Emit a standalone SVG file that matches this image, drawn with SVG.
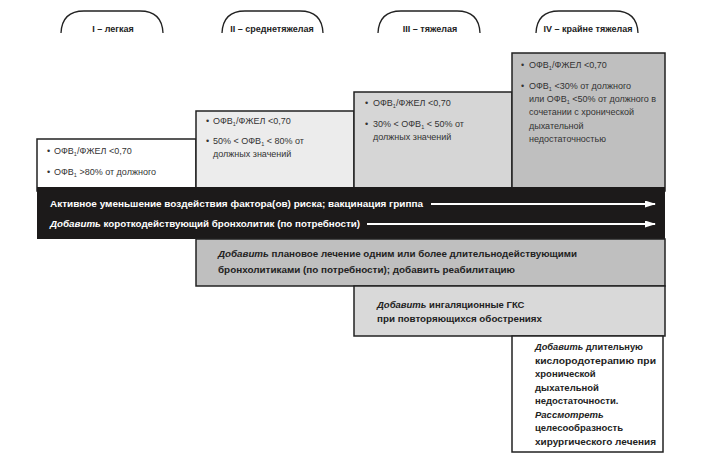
<svg xmlns="http://www.w3.org/2000/svg" width="711" height="455" viewBox="0 0 711 455">
<style>
.t{font-family:"Liberation Sans",Arial,sans-serif;font-size:9px;fill:#333}
.h{font-family:"Liberation Sans",Arial,sans-serif;font-size:9px;font-weight:bold;fill:#222;text-anchor:middle}
.b{font-family:"Liberation Sans",Arial,sans-serif;font-size:9.5px;font-weight:bold;fill:#222}
.w{font-family:"Liberation Sans",Arial,sans-serif;font-size:9.5px;font-weight:bold;fill:#fff}
.s{font-size:5.5px}
.box{stroke:#222;stroke-width:1.5}
.arc{fill:none;stroke:#222;stroke-width:1.3}
.arr{stroke:#fff;stroke-width:2.2;fill:none}
</style>
<defs>
<marker id="ah" markerWidth="11" markerHeight="7" refX="10" refY="3.5" orient="auto" markerUnits="userSpaceOnUse">
<path d="M0,0 L11,3.5 L0,7 Z" fill="#fff"/>
</marker>
</defs>
<rect width="711" height="455" fill="#fff"/>
<g id="headers">
<g id="h1"><path class="arc" d="M61,33 Q62,11 84,11 L140,11 Q162,11 163,33"/><text class="h" x="113" y="32">I – легкая</text></g>
<g id="h2"><path class="arc" d="M222,33 Q223,11 245,11 L300,11 Q322,11 323,33"/><text class="h" x="272" y="32">II – среднетяжелая</text></g>
<g id="h3"><path class="arc" d="M378,33 Q379,11 401,11 L457,11 Q479,11 480,33"/><text class="h" x="430" y="32">III – тяжелая</text></g>
<g id="h4"><path class="arc" d="M536,33 Q537,11 559,11 L615,11 Q637,11 638,33"/><text class="h" x="588" y="32">IV – крайне тяжелая</text></g>
</g>
<g id="stage1"><rect class="box" x="37" y="139" width="159" height="52" fill="#fff"/>
<text class="t" x="47" y="154">•</text><text class="t" x="54" y="154">ОФВ<tspan class="s" dy="2">1</tspan><tspan dy="-2">/ФЖЕЛ &lt;0,70</tspan></text>
<text class="t" x="47" y="175">•</text><text class="t" x="54" y="175">ОФВ<tspan class="s" dy="2">1</tspan><tspan dy="-2"> &gt;80% от должного</tspan></text>
</g>
<g id="stage2"><rect class="box" x="196" y="111" width="158" height="80" fill="#ececec"/>
<text class="t" x="206" y="124">•</text><text class="t" x="213" y="124">ОФВ<tspan class="s" dy="2">1</tspan><tspan dy="-2">/ФЖЕЛ &lt;0,70</tspan></text>
<text class="t" x="206" y="144">•</text><text class="t" x="213" y="144">50% &lt; ОФВ<tspan class="s" dy="2">1</tspan><tspan dy="-2"> &lt; 80% от</tspan></text>
<text class="t" x="213" y="157">должных значений</text>
</g>
<g id="stage3"><rect class="box" x="354" y="92" width="158" height="99" fill="#d6d6d6"/>
<text class="t" x="365" y="106">•</text><text class="t" x="373" y="106">ОФВ<tspan class="s" dy="2">1</tspan><tspan dy="-2">/ФЖЕЛ &lt;0,70</tspan></text>
<text class="t" x="365" y="127">•</text><text class="t" x="373" y="127">30% &lt; ОФВ<tspan class="s" dy="2">1</tspan><tspan dy="-2"> &lt; 50% от</tspan></text>
<text class="t" x="373" y="140">должных значений</text>
</g>
<g id="stage4"><rect class="box" x="512" y="53" width="153" height="138" fill="#bfbfbf"/>
<text class="t" x="521" y="68">•</text><text class="t" x="529" y="68">ОФВ<tspan class="s" dy="2">1</tspan><tspan dy="-2">/ФЖЕЛ &lt;0,70</tspan></text>
<text class="t" x="521" y="89">•</text><text class="t" x="529" y="89">ОФВ<tspan class="s" dy="2">1</tspan><tspan dy="-2"> &lt;30% от должного</tspan></text>
<text class="t" x="529" y="102">или ОФВ<tspan class="s" dy="2">1</tspan><tspan dy="-2"> &lt;50% от должного в</tspan></text>
<text class="t" x="529" y="115">сочетании с хронической</text>
<text class="t" x="529" y="129">дыхательной</text>
<text class="t" x="529" y="142">недостаточностью</text>
</g>
<g id="band"><rect x="37" y="187" width="628" height="52" fill="#1c1a1a"/>
<text class="w" x="50" y="207" textLength="373" lengthAdjust="spacingAndGlyphs">Активное уменьшение воздействия фактора(ов) риска; вакцинация гриппа</text>
<text class="w" x="50" y="227" textLength="310" lengthAdjust="spacingAndGlyphs"><tspan font-style="italic">Добавить</tspan> короткодействующий бронхолитик (по потребности)</text>
</g>
<g id="connectors">
<line class="arr" x1="431" y1="204" x2="655" y2="204" marker-end="url(#ah)"/>
<line class="arr" x1="367" y1="224" x2="655" y2="224" marker-end="url(#ah)"/>
</g>
<g id="plan"><rect class="box" x="196" y="239" width="469" height="47" fill="#bfbfbf"/>
<text class="b" x="218" y="257" textLength="359" lengthAdjust="spacingAndGlyphs"><tspan font-style="italic">Добавить</tspan> плановое лечение одним или более длительнодействующими</text>
<text class="b" x="218" y="273" textLength="297" lengthAdjust="spacingAndGlyphs">бронхолитиками (по потребности); добавить реабилитацию</text>
</g>
<g id="gks"><rect class="box" x="354" y="286" width="311" height="50" fill="#d9d9d9"/>
<text class="b" x="377" y="308"><tspan font-style="italic">Добавить</tspan> ингаляционные ГКС</text>
<text class="b" x="377" y="322" textLength="165" lengthAdjust="spacingAndGlyphs">при повторяющихся обострениях</text>
</g>
<g id="oxygen"><rect class="box" x="512" y="336" width="151" height="116" fill="#fff"/>
<text class="b" x="535" y="350" textLength="108" lengthAdjust="spacingAndGlyphs"><tspan font-style="italic">Добавить</tspan> длительную</text>
<text class="b" x="535" y="364" textLength="121" lengthAdjust="spacingAndGlyphs">кислородотерапию при</text>
<text class="b" x="535" y="377">хронической</text>
<text class="b" x="535" y="391">дыхательной</text>
<text class="b" x="535" y="404">недостаточности.</text>
<text class="b" x="535" y="418" font-style="italic">Рассмотреть</text>
<text class="b" x="535" y="431">целесообразность</text>
<text class="b" x="535" y="445" textLength="121" lengthAdjust="spacingAndGlyphs">хирургического лечения</text>
</g>
</svg>
